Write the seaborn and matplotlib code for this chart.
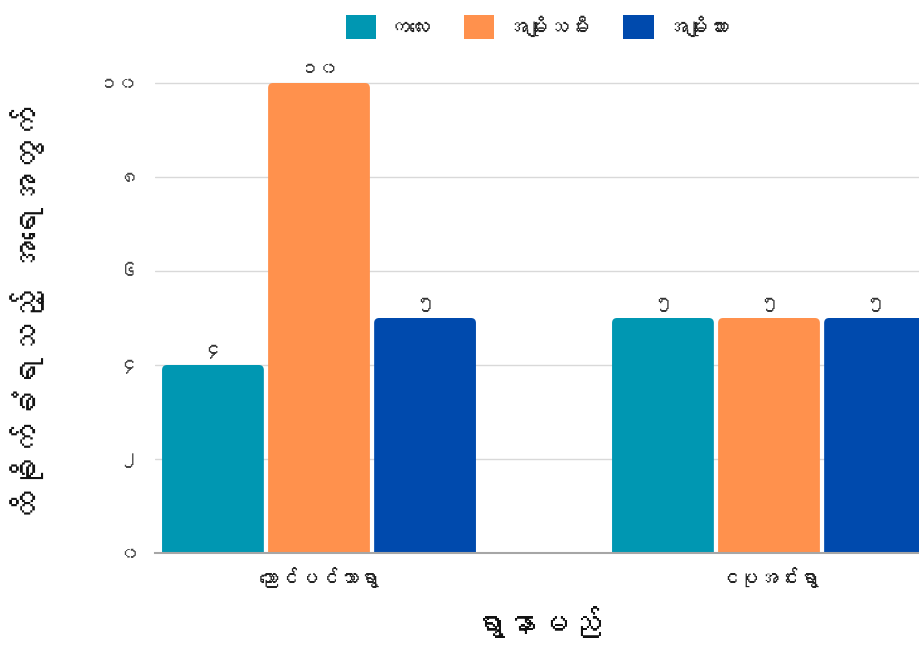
import matplotlib
matplotlib.use("Agg")
import matplotlib.pyplot as plt
import seaborn as sns
import pandas as pd
from matplotlib import font_manager
from matplotlib.patches import FancyBboxPatch, Patch

# ---------------- data ----------------
villages = ["ညောင်ပင်သာရွာ", "ငပုအင်းရွာ"]
groups = ["ကလေး", "အမျိုးသမီး", "အမျိုးသား"]
children = [4, 5]
women = [10, 5]
men = [5, 5]
y_ticks = [0, 2, 4, 6, 8, 10]
y_tick_labels = ["၀", "၂", "၄", "၆", "၈", "၁၀"]
x_title = "ရွာနာမည်"
y_title = "ထိခိုက်ခံရသည့် အရေအတွက်"
colors = ["#0097b2", "#ff914d", "#004aad"]

MM_DIGITS = str.maketrans("0123456789", "၀၁၂၃၄၅၆၇၈၉")


def mm(v):
    return str(v).translate(MM_DIGITS)


def find_myanmar_font():
    try:
        from fontTools.ttLib import TTFont
    except Exception:
        return None
    for f in font_manager.fontManager.ttflist:
        try:
            tt = TTFont(f.fname, fontNumber=0, lazy=True)
            cmap = tt.getBestCmap()
            if cmap and 0x1000 in cmap and 0x1040 in cmap:
                return f.name
        except Exception:
            continue
    return None


sns.set_theme(style="white")
mfont = find_myanmar_font()
plt.rcParams["font.family"] = ([mfont] if mfont else []) + ["Noto Sans", "DejaVu Sans"]

df = pd.DataFrame({
    "village": villages * 3,
    "group": [groups[0]] * 2 + [groups[1]] * 2 + [groups[2]] * 2,
    "count": children + women + men,
})

W, H = 920, 651
fig = plt.figure(figsize=(W / 100, H / 100), dpi=100)
ax_left, ax_right, ax_bottom, ax_top = 155, 920, 553, 60
ax = fig.add_axes([ax_left / W, (H - ax_bottom) / H,
                   (ax_right - ax_left) / W, (ax_bottom - ax_top) / H])

sns.barplot(data=df, x="village", y="count", hue="group", hue_order=groups,
            order=villages, palette=colors, saturation=1, width=0.707, gap=0.04,
            legend=False, ax=ax, errorbar=None)

px_x = 1 / 450.0
px_y = 1 / 47.0
ax.set_xlim((ax_left - 319) * px_x, (ax_right - 319) * px_x)
ax.set_ylim(0, (ax_bottom - ax_top) * px_y)

# value labels
for cont, vals in zip(ax.containers, [children, women, men]):
    ax.bar_label(cont, labels=[mm(v) for v in vals], padding=4,
                 fontsize=14, color="#333333")

# rounded top corners
rx, ry = 5 * px_x, 5 * px_y
for cont in ax.containers:
    for p in cont.patches:
        x, w, h = p.get_x(), p.get_width(), p.get_height()
        fc = p.get_facecolor()
        p.set_visible(False)
        fb = FancyBboxPatch((x, -ry), w, h + ry,
                            boxstyle=f"round,pad=0,rounding_size={rx}",
                            mutation_aspect=ry / rx, fc=fc, ec="none",
                            clip_on=True, zorder=2)
        ax.add_patch(fb)

ax.set_yticks(y_ticks)
ax.set_yticklabels(y_tick_labels, fontsize=14, color="#444444")
ax.tick_params(axis="y", length=0, pad=12)
ax.tick_params(axis="x", length=0, pad=10, labelsize=14.5, labelcolor="#222222")
ax.yaxis.grid(True, color="#d9d9d9", linewidth=1)
ax.set_axisbelow(True)
for s in ["left", "right", "top"]:
    ax.spines[s].set_visible(False)
ax.spines["bottom"].set_color("#a6a6a6")
ax.spines["bottom"].set_linewidth(1.5)
ax.spines["bottom"].set_zorder(3)

ax.set_xlabel(x_title, fontsize=23, fontweight="bold", color="#111111",
              va="center", ha="center")
ax.set_ylabel(y_title, fontsize=24, fontweight="bold", color="#111111",
              va="center", ha="center")
ax.xaxis.set_label_coords(0.5, (ax_bottom - 622) / (ax_bottom - ax_top))
ax.yaxis.set_label_coords((28 - ax_left) / (ax_right - ax_left),
                          (ax_bottom - 315) / (ax_bottom - ax_top))

handles = [Patch(facecolor=c, edgecolor="none") for c in colors]
ax.legend(handles, groups, loc="center", ncol=3, frameon=False,
          bbox_to_anchor=(0.5, (ax_bottom - 27) / (ax_bottom - ax_top)),
          fontsize=15, handlelength=1.45, handleheight=1.45, columnspacing=1.6,
          handletextpad=0.6, labelcolor="#222222")

fig.savefig("out.png", dpi=100)
